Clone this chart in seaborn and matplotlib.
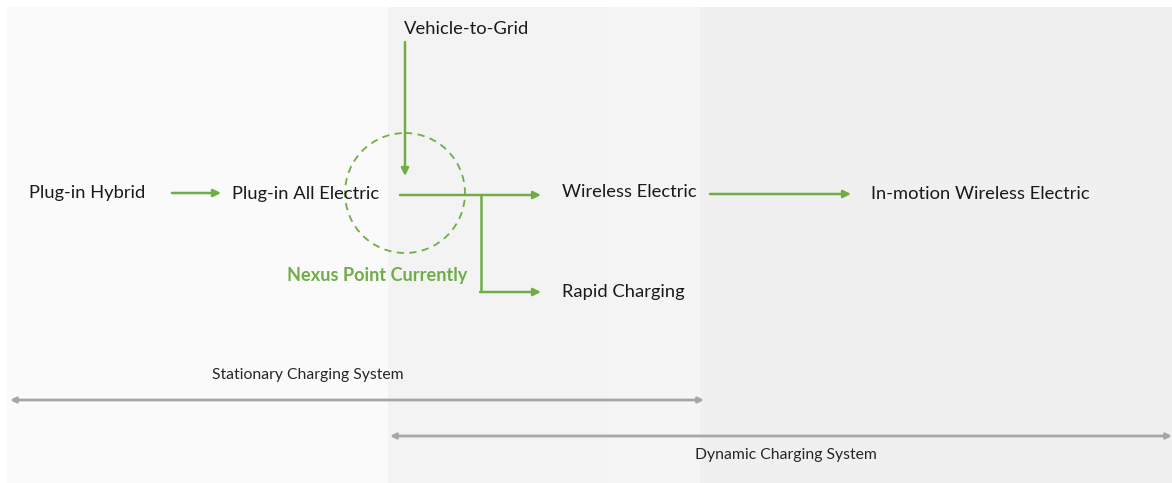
import matplotlib
matplotlib.use("Agg")
import matplotlib.pyplot as plt
from matplotlib.patches import Ellipse
import seaborn as sns

# node labels of the roadmap
node_labels = ["Plug-in Hybrid", "Plug-in All Electric", "Vehicle-to-Grid",
               "Wireless Electric", "Rapid Charging", "In-motion Wireless Electric"]
node_x = [29, 232, 404, 562, 562, 871]
node_y = [193, 194, 29, 192, 292, 194]

nexus_label = "Nexus Point Currently"
system_labels = ["Stationary Charging System", "Dynamic Charging System"]
system_label_x = [212, 695]
system_label_y = [375, 455]
system_spans = [(10, 704), (390, 1172)]
system_span_y = [400, 436]

# straight green arrows (start, end)
flow_arrows = [((172, 193), (221, 193)),
               ((400, 195), (541, 195)),
               ((710, 194), (851, 194)),
               ((405, 42), (405, 176))]

# background bands
bands = [(7, 388, "#fafafa"), (388, 608, "#f3f3f3"),
         (608, 700, "#f5f5f5"), (700, 1172, "#f0f0f0")]

green = "#70ad47"
gray = "#a6a6a6"

sns.set_theme(style="white")
plt.rcParams["font.family"] = ["Lato", "DejaVu Sans"]

fig = plt.figure(figsize=(11.72, 4.83), dpi=100)
ax = fig.add_axes([0, 0, 1, 1])
ax.set_xlim(0, 1172)
ax.set_ylim(483, 0)
ax.axis("off")

for x0, x1, c in bands:
    ax.axvspan(x0, x1, ymin=0, ymax=1 - 7 / 483, color=c, lw=0, zorder=0)

for lab, x, y in zip(node_labels, node_x, node_y):
    ax.text(x, y, lab, fontsize=13.2, color="#1a1a1a", ha="left", va="center")

ax.text(467, 275, nexus_label, fontsize=13.1, fontweight="bold", color=green,
        ha="right", va="center")

arrow_kw = dict(arrowstyle="-|>", mutation_scale=11, lw=1.8, color=green,
                shrinkA=0, shrinkB=0)
for (a, b) in flow_arrows:
    ax.annotate("", xy=b, xytext=a, arrowprops=arrow_kw)

# branch to rapid charging
ax.plot([481, 481], [195, 292], color=green, lw=1.8, solid_capstyle="butt")
ax.annotate("", xy=(541, 292), xytext=(480.1, 292), arrowprops=arrow_kw)

# nexus circle
ax.add_patch(Ellipse((405, 193), 120, 120, fill=False, ec=green, lw=1.3,
                     ls=(0, (4, 3))))

# system spans
for (x0, x1), y in zip(system_spans, system_span_y):
    ax.annotate("", xy=(x1, y), xytext=(x0, y),
                arrowprops=dict(arrowstyle="<|-|>", mutation_scale=8, lw=2,
                                color=gray, shrinkA=0, shrinkB=0))
for lab, x, y in zip(system_labels, system_label_x, system_label_y):
    ax.text(x, y, lab, fontsize=11.3, color="#262626", ha="left", va="center")

fig.savefig("out.png", dpi=100)
